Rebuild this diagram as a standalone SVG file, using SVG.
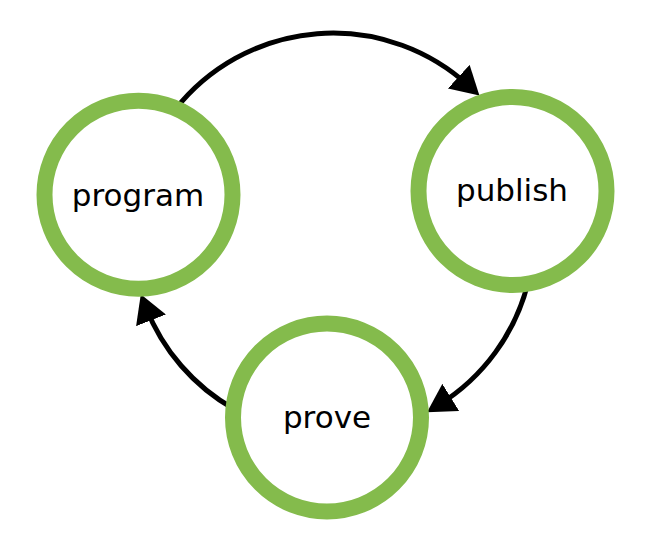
<svg xmlns="http://www.w3.org/2000/svg" width="648" height="549" viewBox="0 0 648 549">
  <style>
    .ring { fill: #ffffff; stroke: #84bb4c; stroke-width: 16; }
    .label { font-family: "DejaVu Sans", sans-serif; font-size: 31px; fill: #000000; text-anchor: middle; }
    .edge { fill: none; stroke: #000000; stroke-width: 5; marker-end: url(#arrow); }
  </style>
  <defs>
    <marker id="arrow" markerUnits="userSpaceOnUse" markerWidth="28" markerHeight="32" refX="14" refY="16" orient="auto" viewBox="0 0 28 32">
      <path d="M0,0 L28,16 L0,32 Z" fill="#000000"/>
    </marker>
  </defs>
  <rect width="648" height="549" fill="#ffffff"/>
  <g id="connectors">
    <path class="edge" d="M175.4,109.3 A201,201 0 0 1 469.1,86.1"/>
    <path class="edge" d="M528.0,282.6 A201,201 0 0 1 438.9,404.8"/>
    <path class="edge" d="M234.0,409.0 A201,201 0 0 1 145.9,307.3"/>
  </g>
  <g id="node-program">
    <circle class="ring" cx="138.5" cy="194.7" r="94"/>
    <text class="label" x="138" y="206">program</text>
  </g>
  <g id="node-publish">
    <circle class="ring" cx="512.5" cy="191" r="94"/>
    <text class="label" x="512" y="201">publish</text>
  </g>
  <g id="node-prove">
    <circle class="ring" cx="327" cy="417.5" r="94"/>
    <text class="label" x="327" y="428">prove</text>
  </g>
</svg>
